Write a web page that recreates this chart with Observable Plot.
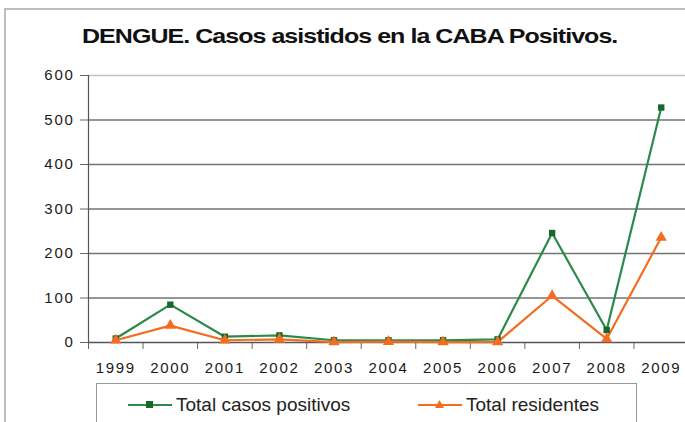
<!DOCTYPE html>
<html>
<head>
<meta charset="utf-8">
<script src="https://cdn.jsdelivr.net/npm/d3@7"></script>
<script src="https://cdn.jsdelivr.net/npm/@observablehq/plot@0.6"></script>
<style>
  html, body { margin: 0; padding: 0; background: #fff; }
  #wrap { position: relative; width: 685px; height: 422px; overflow: hidden; background: #fff; font-family: "Liberation Sans", Arial, sans-serif; }
  #frame { position: absolute; left: 4px; top: 8px; width: 720px; height: 440px; border: 2px solid #bdbdbd; box-shadow: 1px 1px 1px #ddd; }
  #title { position: absolute; left: 82px; top: 24px; white-space: nowrap; font-weight: bold; font-size: 21px; letter-spacing: -0.8px; color: #111; transform: scaleX(1.19); transform-origin: 0 0; }
  #chart { position: absolute; left: 0; top: 0; width: 700px; }
  #chart svg { max-width: none; }
  #legend { position: absolute; left: 96px; top: 383px; width: 539px; height: 60px; border: 1px solid #9a9a9a; background: #fff; }
  .item { position: absolute; top: 10px; display: flex; align-items: center; font-size: 19px; color: #222; line-height: 22px; }
  .item svg { margin-right: 4px; }
</style>
</head>
<body>
<div id="wrap">
  <div id="frame"></div>
  <div id="title"></div>
  <div id="chart"></div>
  <div id="legend"></div>
</div>
<script>
const title = "DENGUE. Casos asistidos en la CABA Positivos.";
const years = [1999, 2000, 2001, 2002, 2003, 2004, 2005, 2006, 2007, 2008, 2009];
const totalPositivos = [9, 85, 13, 16, 5, 5, 5, 7, 246, 28, 528];
const totalResidentes = [5, 38, 5, 7, 1, 2, 1, 1, 105, 8, 236];
const yTicks = [0, 100, 200, 300, 400, 500, 600];
const seriesNames = ["Total casos positivos", "Total residentes"];
const seriesColors = ["#2a8a4a", "#f26d1f"];
const markerColors = ["#17682a", "#f26d1f"];

const data = [];
years.forEach((y, i) => {
  data.push({year: y, value: totalPositivos[i], serie: seriesNames[0]});
  data.push({year: y, value: totalResidentes[i], serie: seriesNames[1]});
});
const boundaries = years.map(y => y - 0.5).concat([years[years.length - 1] + 0.5]);

document.getElementById("title").textContent = title;

const chart = Plot.plot({
  width: 700,
  height: 400,
  marginLeft: 88,
  marginRight: 12,
  marginTop: 75,
  marginBottom: 58,
  style: {fontFamily: "'Liberation Sans', Arial, sans-serif", fontSize: "15px", color: "#1a1a1a", letterSpacing: "1.7px", background: "transparent", overflow: "visible", maxWidth: "none"},
  x: {domain: [years[0] - 0.5, years[years.length - 1] + 0.5]},
  y: {domain: [0, 600]},
  marks: [
    Plot.ruleY(yTicks.filter(t => t > 0 && t < 600), {stroke: "#737373", strokeWidth: 1.3}),
    Plot.ruleY([600], {stroke: "#c4c4c4", strokeWidth: 1.5}),
    Plot.axisY({ticks: yTicks, tickSize: 8, tickPadding: 6, label: null, stroke: "#666", tickFormat: d => String(d)}),
    Plot.axisX({ticks: years, tickSize: 0, tickPadding: 20, label: null, tickFormat: d => String(d)}),
    Plot.axisX({ticks: boundaries, tickSize: 7, label: null, stroke: "#666", tickFormat: () => ""}),
    Plot.ruleX([years[0] - 0.5], {stroke: "#555", strokeWidth: 1.2}),
    Plot.ruleY([0], {stroke: "#555", strokeWidth: 1.5}),
    Plot.line(data, {x: "year", y: "value", z: "serie", stroke: d => d.serie === seriesNames[0] ? seriesColors[0] : seriesColors[1], strokeWidth: 2.2}),
    Plot.dot(data.filter(d => d.serie === seriesNames[0]), {x: "year", y: "value", symbol: "square", r: 3.6, fill: markerColors[0], stroke: "none"}),
    Plot.dot(data.filter(d => d.serie === seriesNames[1]), {x: "year", y: "value", symbol: "triangle", r: 4.2, fill: markerColors[1], stroke: "none"})
  ]
});
document.getElementById("chart").appendChild(chart);

const legend = document.getElementById("legend");
const legendX = [31, 321];
seriesNames.forEach((name, i) => {
  const item = document.createElement("div");
  item.className = "item";
  item.style.left = legendX[i] + "px";
  const marker = i === 0
    ? `<rect x="18" y="6" width="7" height="7" fill="${markerColors[0]}"/>`
    : `<path d="M21.5,5 L26,13 L17,13 Z" fill="${markerColors[1]}"/>`;
  item.innerHTML = `<svg width="44" height="20"><line x1="0" x2="44" y1="10" y2="10" stroke="${seriesColors[i]}" stroke-width="2.2"/>${marker}</svg><span>${name}</span>`;
  legend.appendChild(item);
});
</script>
</body>
</html>
